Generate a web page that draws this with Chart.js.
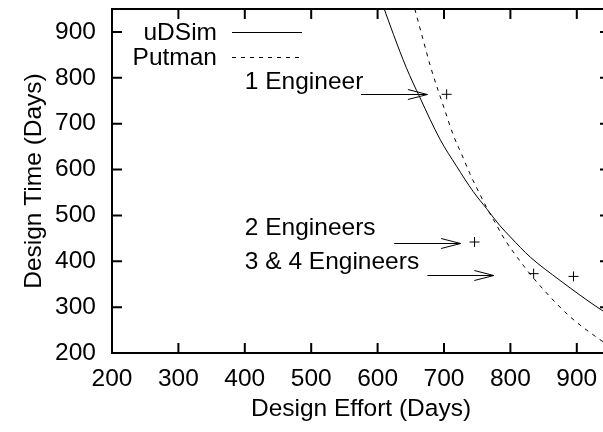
<!DOCTYPE html>
<html><head><meta charset="utf-8">
<script src="https://cdn.jsdelivr.net/npm/chart.js@4.4.1/dist/chart.umd.min.js"></script>
<style>html,body{margin:0;padding:0;overflow:hidden;background:#fff}canvas{display:block}</style>
</head><body>
<canvas id="c" width="616" height="432"></canvas>
<script>
// ---- data ----
const xTicks = [200, 300, 400, 500, 600, 700, 800, 900];
const yTicks = [200, 300, 400, 500, 600, 700, 800, 900];
const xTitle = 'Design Effort (Days)';
const yTitle = 'Design Time (Days)';

const udsimEffort = [610, 624, 643, 664, 694, 719, 744, 764, 784, 800, 830, 875, 905, 938, 950];
const udsimTime   = [950, 894, 823, 756, 666, 607, 552, 515, 478, 453, 409, 358, 326, 293, 283];

const putmanEffort = [656, 668, 680, 702, 714, 727, 739, 752, 769, 780, 787, 820, 855, 890, 933, 950];
const putmanTime   = [950, 886, 823, 726, 675, 632, 591, 552, 504, 477, 458, 390, 330, 279, 231, 215];

const engEffort = [704, 746, 835, 895];
const engTime   = [764, 442, 373, 367];

const labelText = ['1 Engineer', '2 Engineers', '3 & 4 Engineers'];
const labelX = [400, 400, 400];
const labelY = [790, 472, 398];

const arrowFromX = [575, 625, 675];
const arrowToX   = [675, 725, 775];
const arrowY     = [765, 440, 370];

const seriesNames = ['uDSim', 'Putman', 'Engineers'];

// ---- helpers ----
const FONT = "'Liberation Sans', Arial, Helvetica, sans-serif";
const FSIZE = 24.5;
const fontObj = {family: FONT, size: FSIZE};
const zip = (xs, ys) => xs.map((x, i) => ({x, y: ys[i]}));

const framePlugin = {
  id: 'frame',
  afterDatasetsDraw(chart) {
    const {ctx, chartArea: a, scales: {x, y}} = chart;
    ctx.save();
    // annotations: labels
    ctx.fillStyle = '#000';
    ctx.font = FSIZE + 'px ' + FONT;
    ctx.textAlign = 'left';
    ctx.textBaseline = 'middle';
    labelText.forEach((t, i) => {
      ctx.fillText(t, x.getPixelForValue(labelX[i]), y.getPixelForValue(labelY[i]));
    });
    // arrows
    ctx.strokeStyle = '#000';
    ctx.lineWidth = 1;
    arrowY.forEach((v, i) => {
      const py = Math.round(y.getPixelForValue(v)) + 0.5;
      const fx = x.getPixelForValue(arrowFromX[i]);
      const tx = x.getPixelForValue(arrowToX[i]);
      ctx.beginPath();
      ctx.moveTo(fx, py); ctx.lineTo(tx, py);
      ctx.moveTo(tx - 19.5, py - 5); ctx.lineTo(tx, py); ctx.lineTo(tx - 19.5, py + 5);
      ctx.stroke();
    });
    // legend (gnuplot style)
    const names = chart.data.datasets.slice(0, 2);
    const ly = [33, 58];
    names.forEach((ds, i) => {
      ctx.textAlign = 'right';
      ctx.fillText(ds.label, 217, ly[i]);
      ctx.beginPath();
      ctx.setLineDash(ds.borderDash || []);
      ctx.moveTo(232, ly[i] - 0.5); ctx.lineTo(302, ly[i] - 0.5);
      ctx.stroke();
      ctx.setLineDash([]);
    });
    // border + inward ticks
    ctx.lineWidth = 2;
    ctx.strokeRect(a.left, a.top, a.right - a.left, a.bottom - a.top);
    ctx.beginPath();
    x.ticks.forEach(t => {
      const px = x.getPixelForValue(t.value);
      ctx.moveTo(px, a.bottom); ctx.lineTo(px, a.bottom - 10);
      ctx.moveTo(px, a.top); ctx.lineTo(px, a.top + 10);
    });
    y.ticks.forEach(t => {
      const py = y.getPixelForValue(t.value);
      ctx.moveTo(a.left, py); ctx.lineTo(a.left + 10, py);
      ctx.moveTo(a.right, py); ctx.lineTo(a.right - 10, py);
    });
    ctx.stroke();
    ctx.restore();
  }
};

new Chart(document.getElementById('c'), {
  type: 'scatter',
  data: {
    datasets: [
      {label: seriesNames[0], data: zip(udsimEffort, udsimTime), showLine: true,
       borderColor: '#000', borderWidth: 1, pointRadius: 0, cubicInterpolationMode: 'monotone'},
      {label: seriesNames[1], data: zip(putmanEffort, putmanTime), showLine: true,
       borderColor: '#000', borderWidth: 1, borderDash: [4, 5], pointRadius: 0, cubicInterpolationMode: 'monotone'},
      {label: seriesNames[2], data: zip(engEffort, engTime), showLine: false,
       pointStyle: 'cross', pointRadius: 5, borderColor: '#000', borderWidth: 1, backgroundColor: '#000'}
    ]
  },
  options: {
    responsive: false,
    animation: false,
    devicePixelRatio: 1,
    layout: {padding: {top: 9, right: 6, left: 0, bottom: 0}},
    plugins: {legend: {display: false}, tooltip: {enabled: false}},
    scales: {
      x: {
        type: 'linear', min: 200, max: 950,
        afterBuildTicks: s => { s.ticks = xTicks.map(v => ({value: v})); },
        afterFit: s => { s.height = 79; s.paddingLeft = 0; s.paddingRight = 0; },
        ticks: {font: fontObj, color: '#000', padding: 12, maxRotation: 0, autoSkip: false},
        grid: {display: false, drawTicks: false},
        border: {display: false},
        title: {display: true, text: xTitle, font: fontObj, color: '#000', padding: {top: 0, bottom: 8}}
      },
      y: {
        type: 'linear', min: 200, max: 950,
        afterBuildTicks: s => { s.ticks = yTicks.map(v => ({value: v})); },
        afterFit: s => { s.width = 112; s.paddingTop = 0; s.paddingBottom = 0; },
        ticks: {font: fontObj, color: '#000', padding: 16, autoSkip: false},
        grid: {display: false, drawTicks: false},
        border: {display: false},
        title: {display: true, text: yTitle, font: fontObj, color: '#000', padding: {top: 20, bottom: 0}}
      }
    }
  },
  plugins: [framePlugin]
});
</script>
</body></html>
